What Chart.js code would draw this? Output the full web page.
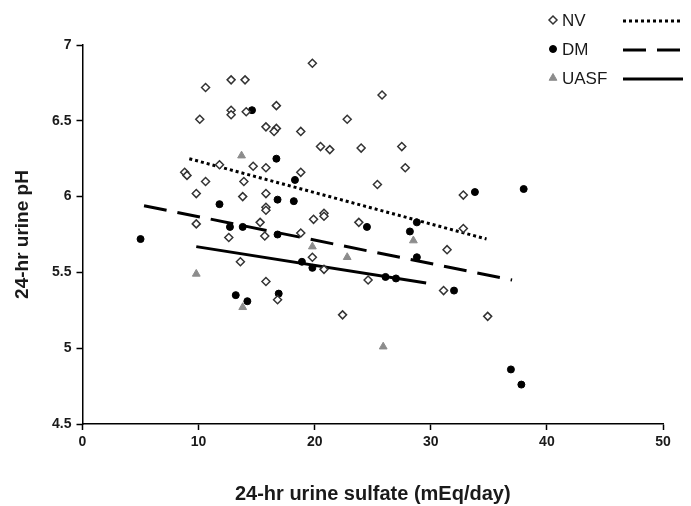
<!DOCTYPE html>
<html>
<head>
<meta charset="utf-8">
<script src="https://cdn.jsdelivr.net/npm/chart.js@4/dist/chart.umd.min.js"></script>
<style>
  html, body { margin: 0; padding: 0; background: #fff; }
  #wrap { width: 691px; height: 506px; }
</style>
</head>
<body>
<div id="wrap"><canvas id="c" width="691" height="506"></canvas></div>
<script>
// ---- data ----
const seriesNames = ['NV', 'DM', 'UASF'];

const nvX = [19.8, 10.6, 12.8, 14.0, 16.7, 12.8, 12.8, 14.1, 10.1, 15.8, 16.7, 16.5, 18.8, 20.5, 21.3,
             25.8, 22.8, 24.0, 27.5, 27.8, 25.4, 11.8, 14.7, 15.8, 18.8, 8.8, 9.0, 10.6, 13.9, 9.8,
             13.8, 15.8, 15.8, 15.8, 9.8, 15.3, 12.6, 15.7, 18.8, 19.9, 20.8, 20.8, 23.8, 19.8, 20.8,
             13.6, 15.8, 16.8, 22.4, 24.6, 32.8, 32.8, 31.4, 31.1, 34.9];
const nvY = [6.88, 6.72, 6.77, 6.77, 6.60, 6.57, 6.54, 6.56, 6.51, 6.46, 6.45, 6.43, 6.43, 6.33, 6.31,
             6.67, 6.51, 6.32, 6.33, 6.19, 6.08, 6.21, 6.20, 6.19, 6.16, 6.16, 6.14, 6.10, 6.10, 6.02,
             6.00, 6.02, 5.93, 5.91, 5.82, 5.83, 5.73, 5.74, 5.76, 5.85, 5.89, 5.87, 5.83, 5.60, 5.52,
             5.57, 5.44, 5.32, 5.22, 5.45, 6.01, 5.79, 5.65, 5.38, 5.21];

const dmX = [5.0, 14.6, 16.7, 18.3, 11.8, 16.8, 18.2, 12.7, 13.8, 16.8, 24.5, 28.8, 28.2, 28.8,
             18.9, 19.8, 26.1, 27.0, 13.2, 14.2, 16.9, 33.8, 38.0, 32.0, 36.9, 37.8];
const dmY = [5.72, 6.57, 6.25, 6.11, 5.95, 5.98, 5.97, 5.80, 5.80, 5.75, 5.80, 5.83, 5.77, 5.60,
             5.57, 5.53, 5.47, 5.46, 5.35, 5.31, 5.36, 6.03, 6.05, 5.38, 4.86, 4.76];

const uasfX = [13.7, 9.8, 19.8, 22.8, 28.5, 13.8, 25.9];
const uasfY = [6.27, 5.49, 5.67, 5.60, 5.71, 5.27, 5.01];

// regression lines (end points)
const nvFitX = [9.2, 34.8],  nvFitY = [6.25, 5.72];
const dmFitX = [5.3, 37.0],  dmFitY = [5.94, 5.45];
const uasfFitX = [9.8, 29.6], uasfFitY = [5.67, 5.43];

const xTicks = [0, 10, 20, 30, 40, 50];
const yTicks = [4.5, 5, 5.5, 6, 6.5, 7];
const yTickLabels = ['4.5', '5', '5.5', '6', '6.5', '7'];

const xTitle = '24-hr urine sulfate (mEq/day)';
const yTitle = '24-hr urine pH';

// ---- build ----
const pts = (xs, ys) => xs.map((x, i) => ({ x: x, y: ys[i] }));
const FONT = '"Liberation Sans", Arial, sans-serif';

const styles = {
  NV:   { marker: 'rectRot', fill: '#ffffff', stroke: '#333333', r: 4, bw: 1.5, dash: [3, 3] },
  DM:   { marker: 'circle',  fill: '#000000', stroke: '#000000', r: 3.5, bw: 1, dash: [23, 11] },
  UASF: { marker: 'triangle', fill: '#8c8c8c', stroke: '#8c8c8c', r: 4.5, bw: 1, dash: [] }
};

function scatterDs(name, xs, ys) {
  const s = styles[name];
  return {
    type: 'scatter', label: name, data: pts(xs, ys), showLine: false,
    pointStyle: s.marker, pointRadius: s.r, pointHoverRadius: s.r,
    pointBackgroundColor: s.fill, pointBorderColor: s.stroke, pointBorderWidth: s.bw,
    order: 1
  };
}
function lineDs(name, xs, ys) {
  const s = styles[name];
  return {
    type: 'line', label: name + ' fit', data: pts(xs, ys),
    borderColor: '#000', borderWidth: 3, borderDash: s.dash, borderCapStyle: 'butt',
    pointRadius: 0, fill: false, tension: 0, order: 2
  };
}

const legendPlugin = {
  id: 'customLegend',
  afterDraw(chart) {
    const ctx = chart.ctx;
    const rows = [20, 49, 78];
    ctx.save();
    seriesNames.forEach((name, i) => {
      const s = styles[name];
      const y = rows[i];
      ctx.fillStyle = s.fill; ctx.strokeStyle = s.stroke; ctx.lineWidth = s.bw;
      Chart.helpers.drawPoint(ctx, { pointStyle: s.marker, radius: s.r, borderWidth: s.bw }, 553, y);
      ctx.fillStyle = '#1a1a1a';
      ctx.font = '17px ' + FONT;
      ctx.textBaseline = 'middle';
      ctx.textAlign = 'left';
      ctx.fillText(name, 562, y + 1);
      ctx.beginPath();
      ctx.setLineDash(s.dash);
      ctx.lineWidth = 3;
      ctx.lineCap = 'butt';
      ctx.strokeStyle = '#000';
      ctx.moveTo(623, y + 1);
      ctx.lineTo(683, y + 1);
      ctx.stroke();
      ctx.setLineDash([]);
    });
    ctx.restore();
  }
};

new Chart(document.getElementById('c'), {
  data: {
    datasets: [
      lineDs('NV', nvFitX, nvFitY),
      lineDs('DM', dmFitX, dmFitY),
      lineDs('UASF', uasfFitX, uasfFitY),
      scatterDs('NV', nvX, nvY),
      scatterDs('DM', dmX, dmY),
      scatterDs('UASF', uasfX, uasfY)
    ]
  },
  options: {
    responsive: false,
    animation: false,
    devicePixelRatio: 1,
    layout: { padding: { left: 0, right: 28, top: 45, bottom: 0 } },
    plugins: { legend: { display: false }, tooltip: { enabled: false } },
    scales: {
      x: {
        type: 'linear', min: 0, max: 50,
        afterBuildTicks: (sc) => { sc.ticks = xTicks.map(v => ({ value: v })); },
        afterFit: (sc) => { sc.height = 82; },
        border: { display: true, color: '#000', width: 1.5 },
        grid: { display: true, drawOnChartArea: false, drawTicks: true, tickLength: 6, color: '#000', tickWidth: 1.5 },
        ticks: { color: '#1a1a1a', font: { family: FONT, size: 14, weight: 'bold' }, padding: 4, maxRotation: 0,
                 callback: (v) => String(v) },
        title: { display: true, text: xTitle, color: '#1a1a1a', font: { family: FONT, size: 20, weight: 'bold' }, padding: { bottom: 0 } }
      },
      y: {
        type: 'linear', min: 4.5, max: 7,
        afterBuildTicks: (sc) => { sc.ticks = yTicks.map(v => ({ value: v })); },
        afterFit: (sc) => { sc.width = 82.5; },
        border: { display: true, color: '#000', width: 1.5 },
        grid: { display: true, drawOnChartArea: false, drawTicks: true, tickLength: 6, color: '#000', tickWidth: 1.5 },
        ticks: { color: '#1a1a1a', font: { family: FONT, size: 14, weight: 'bold' }, padding: 5,
                 callback: (v) => { const i = yTicks.indexOf(v); return i >= 0 ? yTickLabels[i] : String(v); } },
        title: { display: true, text: yTitle, color: '#1a1a1a', font: { family: FONT, size: 19, weight: 'bold' }, padding: { top: 11 } }
      }
    }
  },
  plugins: [legendPlugin]
});
</script>
</body>
</html>
